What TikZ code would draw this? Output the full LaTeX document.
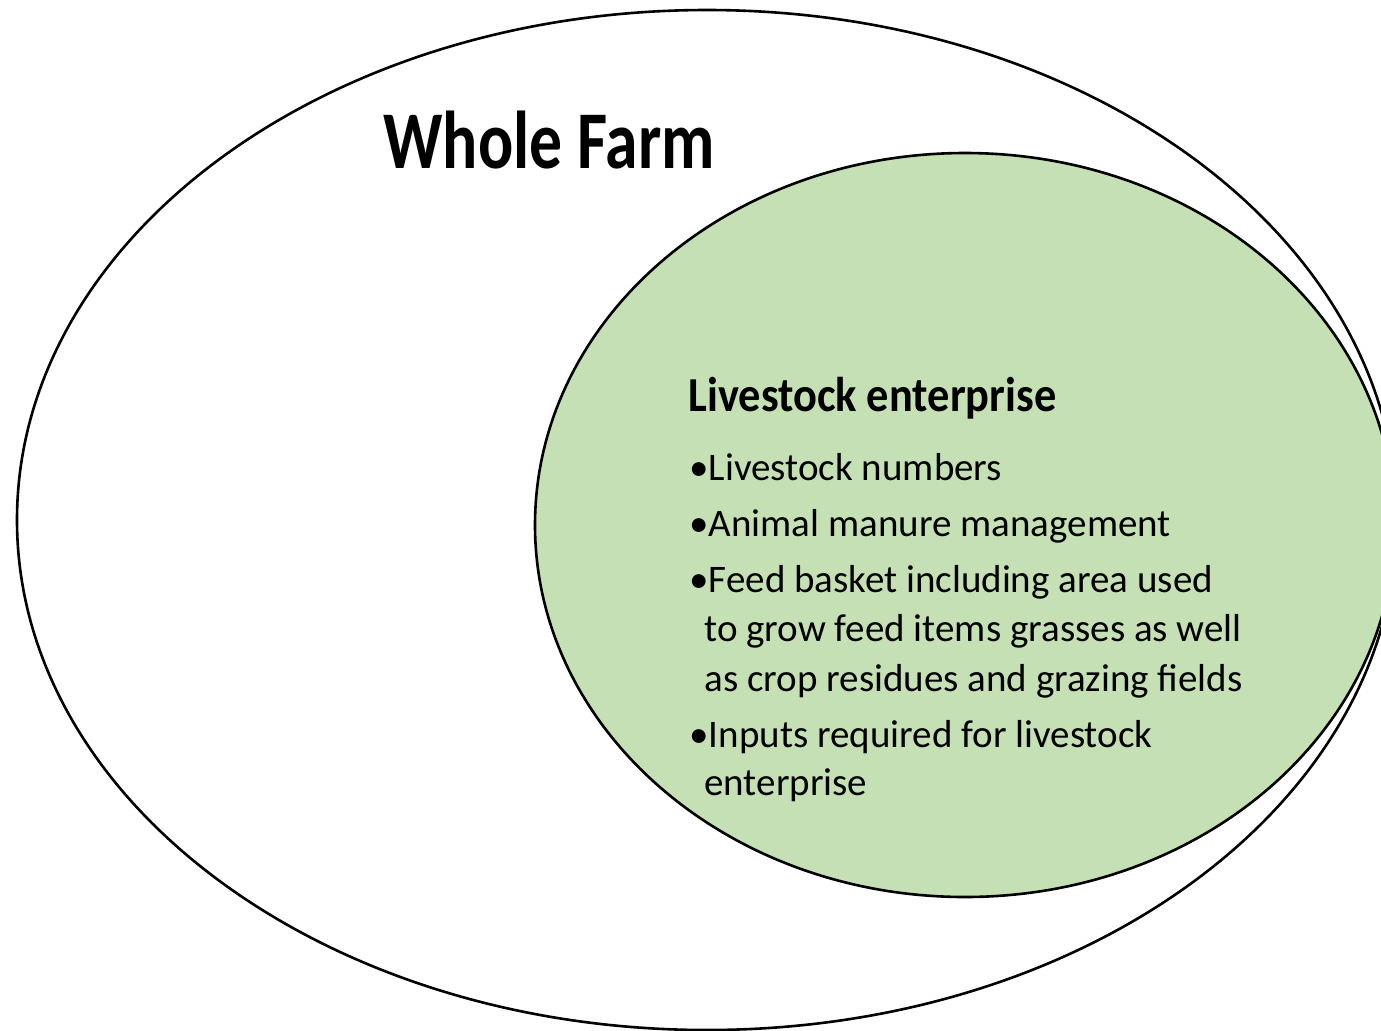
\documentclass[tikz,border=0pt]{standalone}
\usepackage{graphicx}
\usepackage{fontspec}
\setmainfont{Carlito}
\usetikzlibrary{shapes.geometric}
\definecolor{leaf}{HTML}{C5E0B4}
\begin{document}
\begin{tikzpicture}[x=0.5pt,y=-0.5pt,
  ring/.style={ellipse, draw=black, line width=1.3pt, inner sep=0pt, outer sep=0pt},
  itemline/.style={anchor=base west, inner sep=0pt,
    font=\fontsize{19.5pt}{23pt}\selectfont}]
% page area
\path[use as bounding box, fill=white] (0,0) rectangle (1381,1030);
\clip (0,0) rectangle (1381,1030);

% the two nested sets
\node[ring, minimum width=690pt, minimum height=510pt] (farm) at (707,520) {};
\node[ring, fill=leaf, minimum width=430pt, minimum height=372pt] (livestock) at (965,525) {};

% headings
\node[anchor=base west, inner sep=0pt, font=\bfseries\fontsize{32.8pt}{36pt}\selectfont]
  (farmtitle) at (383,168) {\scalebox{1}[1.25]{Whole Farm}};
\node[anchor=base west, inner sep=0pt, font=\bfseries\fontsize{22.2pt}{26pt}\selectfont]
  (lstitle) at (688,411) {\scalebox{1}[1.1]{Livestock enterprise}};

% bullet list
\node[itemline] (i1)  at (689,480) {•Livestock numbers};
\node[itemline] (i2)  at (689,536) {•Animal manure management};
\node[itemline] (i3a) at (689,592) {•Feed basket including area used};
\node[itemline] (i3b) at (704,641) {to grow feed items grasses as well};
\node[itemline] (i3c) at (704,691) {as crop residues and grazing fields};
\node[itemline] (i4a) at (689,747) {•Inputs required for livestock};
\node[itemline] (i4b) at (704,795) {enterprise};
\end{tikzpicture}
\end{document}
